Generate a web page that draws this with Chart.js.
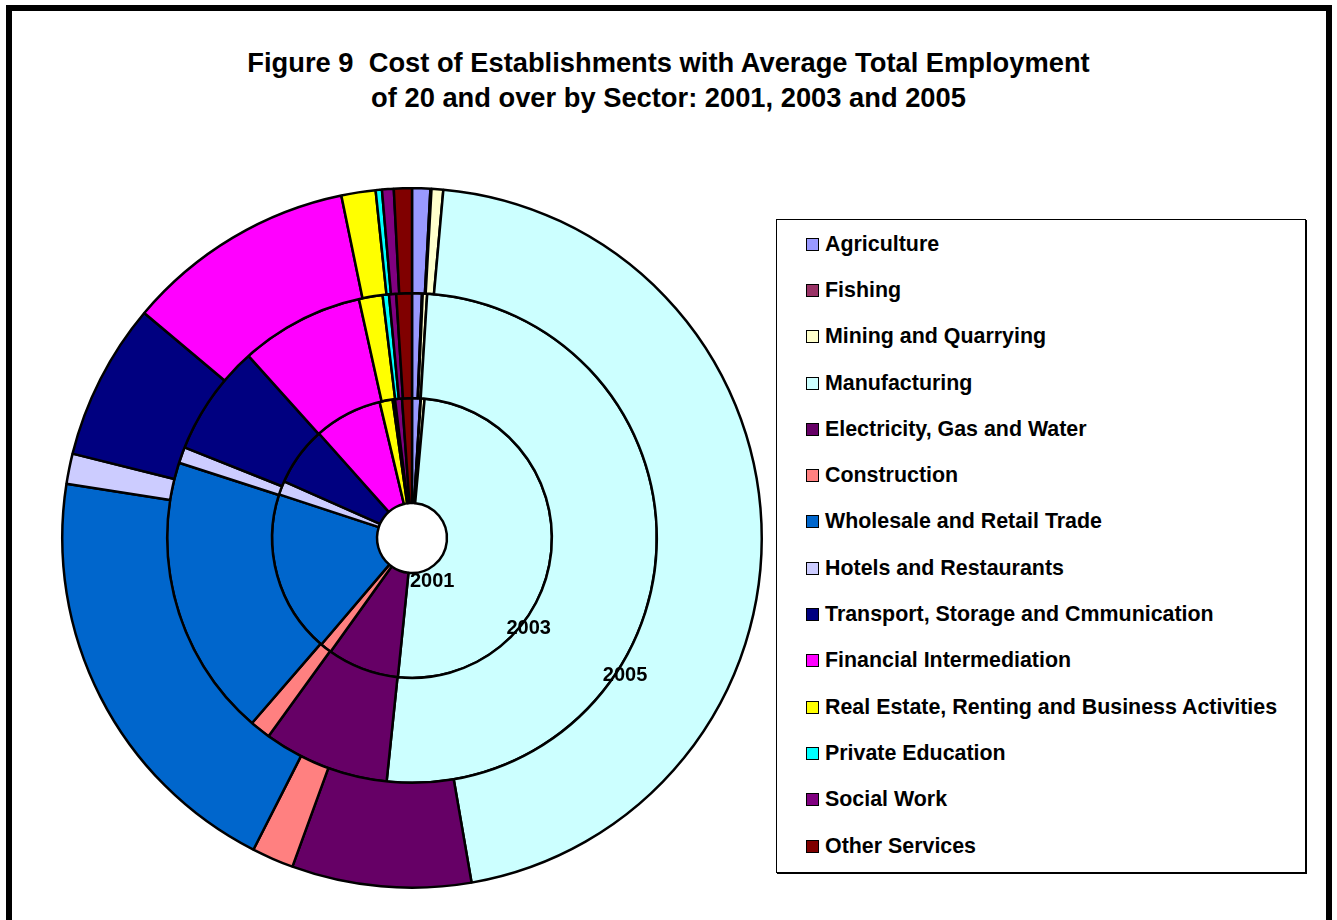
<!DOCTYPE html>
<html>
<head>
<meta charset="utf-8">
<title>Figure 9</title>
<script src="https://cdn.jsdelivr.net/npm/chart.js@4.4.1/dist/chart.umd.min.js"></script>
<style>
    html, body { margin: 0; padding: 0; background: #fff; overflow: hidden; }
    body { width: 1337px; height: 920px; position: relative; font-family: "Liberation Sans", Arial, sans-serif; }
    #frame {
        position: absolute; left: 6px; top: 5px; width: 1326px; height: 1000px;
        box-sizing: border-box; border: 6px solid #000; border-bottom: none;
    }
    #title {
        position: absolute; left: 0; top: 46px; width: 1337px;
        text-align: center; font-weight: bold; font-size: 27.3px; line-height: 34.5px; color: #000;
    }
    #chartBox { position: absolute; left: 51px; top: 177px; width: 722px; height: 722px; }
    #legend {
        position: absolute; left: 776px; top: 219px; width: 530px; height: 654px;
        box-sizing: border-box; border: 1.5px solid #000; box-shadow: 1px 1px 0 #000;
        padding: 1px 0 0 29px; background: #fff;
    }
    #legend .item { display: flex; align-items: center; height: 46.3px; font-weight: bold; font-size: 21.4px; color: #000; white-space: nowrap; }
    #legend .swatch { width: 11px; height: 11px; border: 1.5px solid #000; margin-right: 6px; flex: none; }
</style>
</head>
<body>
<div id="frame"></div>
<div id="title">Figure 9&nbsp; Cost of Establishments with Average Total Employment<br>of 20 and over by Sector: 2001, 2003 and 2005</div>
<div id="chartBox"><canvas id="sectorChart"></canvas></div>
<div id="legend"></div>
<script>
const categories = [
    'Agriculture',
    'Fishing',
    'Mining and Quarrying',
    'Manufacturing',
    'Electricity, Gas and Water',
    'Construction',
    'Wholesale and Retail Trade',
    'Hotels and Restaurants',
    'Transport, Storage and Cmmunication',
    'Financial Intermediation',
    'Real Estate, Renting and Business Activities',
    'Private Education',
    'Social Work',
    'Other Services'
];

// shares in %
const values2001 = [0.97, 0.05, 0.42, 50.2, 8.28, 1.33, 18.83, 1.58, 6.81, 7.86, 1.5, 0.28, 0.8, 1.14];
const values2003 = [0.65, 0.05, 0.29, 50.7, 8.32, 1.38, 18.64, 1.06, 7.33, 8.17, 1.56, 0.42, 0.47, 1.03];
const values2005 = [0.84, 0.05, 0.54, 45.86, 8.28, 1.94, 19.99, 1.40, 7.25, 10.64, 1.58, 0.29, 0.54, 0.83];

const sectorColors = [
    '#9999FF', '#993366', '#FFFFCC', '#CCFFFF', '#660066', '#FF8080', '#0066CC',
    '#CCCCFF', '#000080', '#FF00FF', '#FFFF00', '#00FFFF', '#800080', '#800000'
];

// where each ring's series name sits: angle (deg, clockwise from 3 o'clock) and gap past the ring's inner edge
const labelPlaces = {
    '2005': { angle: 32.9, dr: 9 },
    '2003': { angle: 37.9, dr: 8 },
    '2001': { angle: 65.1, dr: 13 }
};

const yearLabelPlugin = {
    id: 'yearLabels',
    afterDatasetsDraw(chart) {
        const {ctx} = chart;
        ctx.save();
        ctx.font = 'bold 20px "Liberation Sans", Arial, sans-serif';
        ctx.fillStyle = '#000';
        ctx.textAlign = 'center';
        ctx.textBaseline = 'middle';
        chart.data.datasets.forEach((ds, i) => {
            const arc = chart.getDatasetMeta(i).data[3];
            const place = labelPlaces[ds.label];
            const r = arc.innerRadius + place.dr;
            const a = place.angle * Math.PI / 180;
            ctx.fillText(ds.label, arc.x + r * Math.cos(a), arc.y + r * Math.sin(a));
        });
        ctx.restore();
    }
};

function ring(label, data) {
    return {
        label: label,
        data: data,
        backgroundColor: sectorColors,
        borderColor: '#000',
        borderWidth: 2.5
    };
}

const ctx = document.getElementById('sectorChart').getContext('2d');
const chart = new Chart(ctx, {
    type: 'doughnut',
    data: {
        labels: categories,
        datasets: [
            ring('2005', values2005),
            ring('2003', values2003),
            ring('2001', values2001)
        ]
    },
    options: {
        responsive: true,
        maintainAspectRatio: false,
        animation: false,
        events: [],
        cutout: '10%',
        layout: { padding: 10 },
        plugins: {
            legend: { display: false },
            tooltip: { enabled: false }
        }
    },
    plugins: [yearLabelPlugin]
});

// html legend built from the chart's own legend items
const legendBox = document.getElementById('legend');
chart.options.plugins.legend.labels.generateLabels(chart).forEach(item => {
    const row = document.createElement('div');
    row.className = 'item';
    const sw = document.createElement('span');
    sw.className = 'swatch';
    sw.style.background = item.fillStyle;
    row.appendChild(sw);
    row.appendChild(document.createTextNode(item.text));
    legendBox.appendChild(row);
});
</script>
</body>
</html>
